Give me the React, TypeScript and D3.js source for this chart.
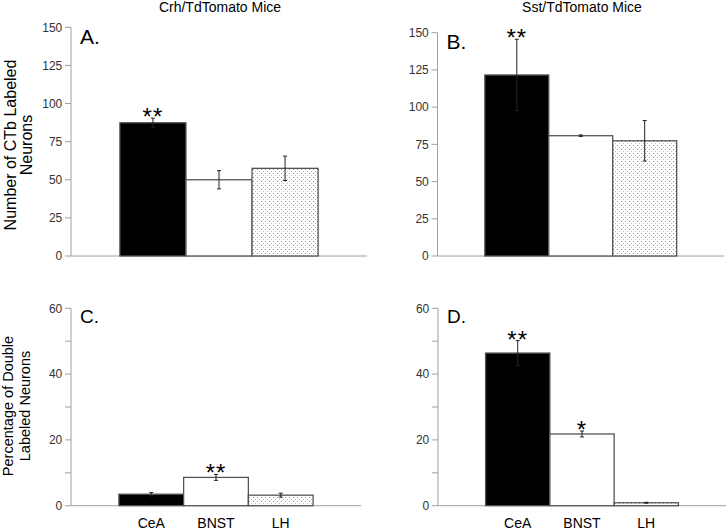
import React from "react";
import * as d3 from "d3";

const categories = ["CeA", "BNST", "LH"];
const panelTitles = ["Crh/TdTomato Mice", "Sst/TdTomato Mice"];
const panelLetters = ["A.", "B.", "C.", "D."];

const crhCount = [87.4, 50, 57.5];
const crhCountErr = [3, 6, 8];
const sstCount = [121.6, 80.8, 77.4];
const sstCountErr = [24, 0.5, 13.6];

const crhPct = [3.5, 8.6, 3.2];
const crhPctErr = [0.5, 0.9, 0.6];
const sstPct = [46.4, 21.8, 0.9];
const sstPctErr = [3.8, 0.9, 0.15];

const crhCountStars = ["**", "", ""];
const sstCountStars = ["**", "", ""];
const crhPctStars = ["", "**", ""];
const sstPctStars = ["**", "*", ""];

const countTicks = [0, 25, 50, 75, 100, 125, 150];
const pctTicks = [0, 10, 20, 30, 40, 50, 60];
const pctTickLabels = [0, 20, 40, 60];

const yLabelTop = ["Number of CTb Labeled", "Neurons"];
const yLabelBottom = ["Percentage of Double", "Labeled Neurons"];

const FONT = "Arial, 'Liberation Sans', Helvetica, sans-serif";
const fills = ["#000", "#fff", "url(#dots)"];

type PanelProps = {
  x0: number; x1: number; yTop: number; yBot: number; max: number;
  ticks: number[]; labeled: number[]; values: number[]; errs: number[];
  stars: string[]; letter: string; letterSize: number; showCats: boolean;
};

function Panel(p: PanelProps) {
  const y = d3.scaleLinear().domain([0, p.max]).range([p.yBot, p.yTop]);
  const x = d3.scaleBand<string>().domain(categories).range([p.x0, p.x1]).paddingInner(0).paddingOuter(0.74);
  const bw = x.bandwidth();
  return (
    <g>
      <line x1={p.x0} x2={p.x0} y1={p.yTop} y2={p.yBot} stroke="#a0a0a0" strokeWidth={1} />
      <line x1={p.x0} x2={p.x1} y1={p.yBot} y2={p.yBot} stroke="#a0a0a0" strokeWidth={1} />
      {p.ticks.map((t) => (
        <g key={t}>
          <line x1={p.x0 - 6} x2={p.x0} y1={y(t)} y2={y(t)} stroke="#a0a0a0" strokeWidth={1} />
          {p.labeled.includes(t) && (
            <text x={p.x0 - 8.7} y={y(t)} dy="0.35em" textAnchor="end" fontSize={12} fill="#333" fontFamily={FONT}>{t}</text>
          )}
        </g>
      ))}
      <text x={p.x0 + 9} y={p.yTop + (p.letterSize * 0.72) + 1.5} fontSize={p.letterSize} fill="#000" fontFamily={FONT}>{p.letter}</text>
      {categories.map((c, i) => {
        const xi = x(c)!;
        const v = p.values[i];
        const e = p.errs[i];
        const cx = xi + bw / 2;
        return (
          <g key={c}>
            <rect x={xi} y={y(v)} width={bw} height={p.yBot - y(v)} fill={fills[i]} stroke="#555" strokeWidth={1.3} />
            <line x1={cx} x2={cx} y1={y(v + e)} y2={y(Math.max(0, v - e))} stroke="#222" strokeWidth={1} />
            <line x1={cx - 2} x2={cx + 2} y1={y(v + e)} y2={y(v + e)} stroke="#222" strokeWidth={1} />
            <line x1={cx - 2} x2={cx + 2} y1={y(Math.max(0, v - e))} y2={y(Math.max(0, v - e))} stroke="#222" strokeWidth={1} />
            {p.stars[i] && (
              <text x={cx} y={y(v + e) + 7} textAnchor="middle" fontSize={24} letterSpacing={1} fill="#000" fontFamily={FONT}>{p.stars[i]}</text>
            )}
            {p.showCats && (
              <text x={cx} y={527.5} textAnchor="middle" fontSize={14} fill="#000" fontFamily={FONT}>{c}</text>
            )}
          </g>
        );
      })}
    </g>
  );
}

export default function App() {
  return (
    <svg width={728} height={529} style={{ position: "absolute", left: 0, top: 0, background: "#fff" }}>
      <defs>
        <pattern id="dots" width={4} height={4} patternUnits="userSpaceOnUse">
          <rect width={4} height={4} fill="#fff" />
          <rect x={1} y={1} width={1} height={1} fill="#888" />
          <rect x={3} y={3} width={1} height={1} fill="#bbb" />
        </pattern>
      </defs>
      <rect width={728} height={529} fill="#fff" />
      <text x={220} y={12} textAnchor="middle" fontSize={14} fill="#000" fontFamily={FONT}>{panelTitles[0]}</text>
      <text x={582} y={12} textAnchor="middle" fontSize={14} fill="#000" fontFamily={FONT}>{panelTitles[1]}</text>
      <g transform="translate(0,145) rotate(-90)">
        <text x={0} y={16} textAnchor="middle" fontSize={16} fontFamily={FONT}>{yLabelTop[0]}</text>
        <text x={0} y={32} textAnchor="middle" fontSize={16} fontFamily={FONT}>{yLabelTop[1]}</text>
      </g>
      <g transform="translate(0,406) rotate(-90)">
        <text x={0} y={12.5} textAnchor="middle" fontSize={14.5} fontFamily={FONT}>{yLabelBottom[0]}</text>
        <text x={0} y={30} textAnchor="middle" fontSize={14.5} fontFamily={FONT}>{yLabelBottom[1]}</text>
      </g>
      <Panel x0={71} x1={367} yTop={27.3} yBot={256} max={150} ticks={countTicks} labeled={countTicks}
        values={crhCount} errs={crhCountErr} stars={crhCountStars} letter={panelLetters[0]} letterSize={21} showCats={false} />
      <Panel x0={437.5} x1={724} yTop={32.7} yBot={256} max={150} ticks={countTicks} labeled={countTicks}
        values={sstCount} errs={sstCountErr} stars={sstCountStars} letter={panelLetters[1]} letterSize={21} showCats={false} />
      <Panel x0={71} x1={361} yTop={308.3} yBot={505.7} max={60} ticks={pctTicks} labeled={pctTickLabels}
        values={crhPct} errs={crhPctErr} stars={crhPctStars} letter={panelLetters[2]} letterSize={19} showCats={true} />
      <Panel x0={438} x1={726} yTop={308.3} yBot={505.7} max={60} ticks={pctTicks} labeled={pctTickLabels}
        values={sstPct} errs={sstPctErr} stars={sstPctStars} letter={panelLetters[3]} letterSize={19} showCats={true} />
    </svg>
  );
}
